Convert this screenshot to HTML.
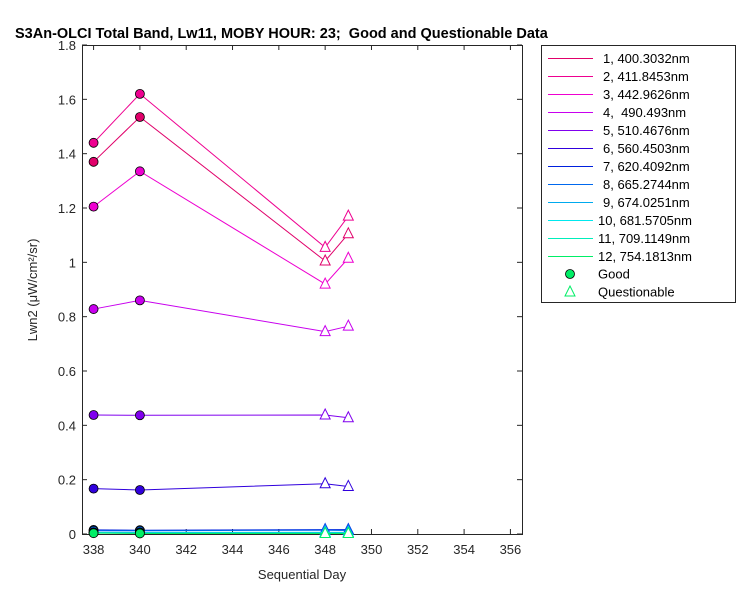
<!DOCTYPE html>
<html><head><meta charset="utf-8"><style>
body{margin:0;background:#fff;font-family:"Liberation Sans",Arial,sans-serif}
svg text{font-family:"Liberation Sans",Arial,sans-serif}
</style></head><body>
<svg id="chart" width="750" height="600" xmlns="http://www.w3.org/2000/svg">
<rect width="750" height="600" fill="#fff"/>
<text x="15" y="38" font-size="14.5" font-weight="bold" fill="#000" style="white-space:pre">S3An-OLCI Total Band, Lw11, MOBY HOUR: 23;&#160; Good and Questionable Data</text>
<g id="plot"></g>
<text x="302" y="579" font-size="13" text-anchor="middle" fill="#262626">Sequential Day</text>
<text transform="translate(37,290) rotate(-90)" font-size="13" text-anchor="middle" fill="#262626">Lwn2 (μW/cm²/sr)</text>
<g id="legend"></g>
</svg>
<script>
const days=[338,340,348,349];
const labels=["1, 400.3032nm","2, 411.8453nm","3, 442.9626nm","4,  490.493nm","5, 510.4676nm","6, 560.4503nm","7, 620.4092nm","8, 665.2744nm","9, 674.0251nm","10, 681.5705nm","11, 709.1149nm","12, 754.1813nm"];
const colors=["#e0006a","#ee0090","#ee00d0","#c800ee","#8000ee","#3000dd","#0020dd","#0068ee","#00aaee","#00e8ee","#00eebb","#00ee66"];
const s1=[1.37,1.535,1.005,1.105];
const s2=[1.44,1.62,1.055,1.17];
const s3=[1.205,1.335,0.92,1.015];
const s4=[0.828,0.86,0.745,0.765];
const s5=[0.438,0.437,0.438,0.428];
const s6=[0.167,0.162,0.185,0.175];
const s7=[0.015,0.014,0.016,0.016];
const s8=[0.012,0.012,0.014,0.013];
const s9=[0.006,0.006,0.006,0.006];
const s10=[0.005,0.004,0.004,0.004];
const s11=[0.004,0.003,0.003,0.003];
const s12=[0.003,0.002,0.002,0.002];
const series=[s1,s2,s3,s4,s5,s6,s7,s8,s9,s10,s11,s12];
const goodCount=2;
const xTicks=[338,340,342,344,346,348,350,352,354,356];
const yTicks=[0,0.2,0.4,0.6,0.8,1,1.2,1.4,1.6,1.8];
const yTickLabels=["0","0.2","0.4","0.6","0.8","1","1.2","1.4","1.6","1.8"];
const L=82,R=522,T=45,B=534,xmin=337.5,xmax=356.5,ymin=0,ymax=1.8;
const X=d=>L+(d-xmin)/(xmax-xmin)*(R-L);
const Y=v=>B-(v-ymin)/(ymax-ymin)*(B-T);
const NS="http://www.w3.org/2000/svg";
function mk(p,t,a){const e=document.createElementNS(NS,t);for(const k in a)e.setAttribute(k,a[k]);p.appendChild(e);return e;}
const plot=document.getElementById('plot');
const frame=mk(plot,'rect',{x:L+0.5,y:T+0.5,width:R-L,height:B-T,fill:'#fff',stroke:'#262626','stroke-width':1});


xTicks.forEach(t=>{const x=X(t);
 mk(plot,'line',{x1:x,x2:x,y1:B,y2:B-5,stroke:'#262626'});mk(plot,'line',{x1:x,x2:x,y1:T,y2:T+5,stroke:'#262626'});
 const tx=mk(plot,'text',{x:x,y:B+20,'font-size':13,'text-anchor':'middle',fill:'#262626'});tx.textContent=t;
 
 });
yTicks.forEach((t,i)=>{const y=Y(t);
 mk(plot,'line',{x1:L,x2:L+5,y1:y,y2:y,stroke:'#262626'});mk(plot,'line',{x1:R,x2:R-5,y1:y,y2:y,stroke:'#262626'});
 const tx=mk(plot,'text',{x:L-6,y:y+5,'font-size':13,'text-anchor':'end',fill:'#262626'});tx.textContent=yTickLabels[i];
 
 });
series.forEach((s,i)=>{
 const g=mk(plot,'g',{});
 
 
 mk(g,'polyline',{points:s.map((v,j)=>X(days[j])+','+Y(v)).join(' '),fill:'none',stroke:colors[i],'stroke-width':1});
 s.forEach((v,j)=>{const x=X(days[j]),y=Y(v);let m;
  if(j<goodCount)m=mk(g,'circle',{cx:x,cy:y,r:4.5,fill:colors[i],stroke:'#000','stroke-width':0.8});
  else m=mk(g,'polygon',{points:`${x},${y-6} ${x-5},${y+4} ${x+5},${y+4}`,fill:'#fff',stroke:colors[i],'stroke-width':1});
  
  });
});
const lg=document.getElementById('legend');
mk(lg,'rect',{x:541.5,y:45.5,width:194,height:257,fill:'#fff',stroke:'#262626','stroke-width':1});
labels.forEach((lab,i)=>{const y=58.5+i*18;
 const e=mk(lg,'g',{});
 
 
 mk(e,'line',{x1:548,x2:593,y1:y,y2:y,stroke:colors[i]});
 const t=mk(e,'text',{x:i<9?603:598,y:y+4.5,'font-size':13,fill:'#000','xml:space':'preserve'});t.textContent=lab;t.style.whiteSpace='pre';});
const gy=58+12*18,qy=58+13*18;
const ge=mk(lg,'g',{});
mk(ge,'circle',{cx:570,cy:gy,r:4.5,fill:'#00ee66',stroke:'#000','stroke-width':0.8});
mk(ge,'text',{x:598,y:gy+4.5,'font-size':13}).textContent='Good';
const qe=mk(lg,'g',{});
mk(qe,'polygon',{points:`570,${qy-6} 565,${qy+4} 575,${qy+4}`,fill:'#fff',stroke:'#00ee66'});
mk(qe,'text',{x:598,y:qy+4.5,'font-size':13}).textContent='Questionable';
</script>
</body></html>
